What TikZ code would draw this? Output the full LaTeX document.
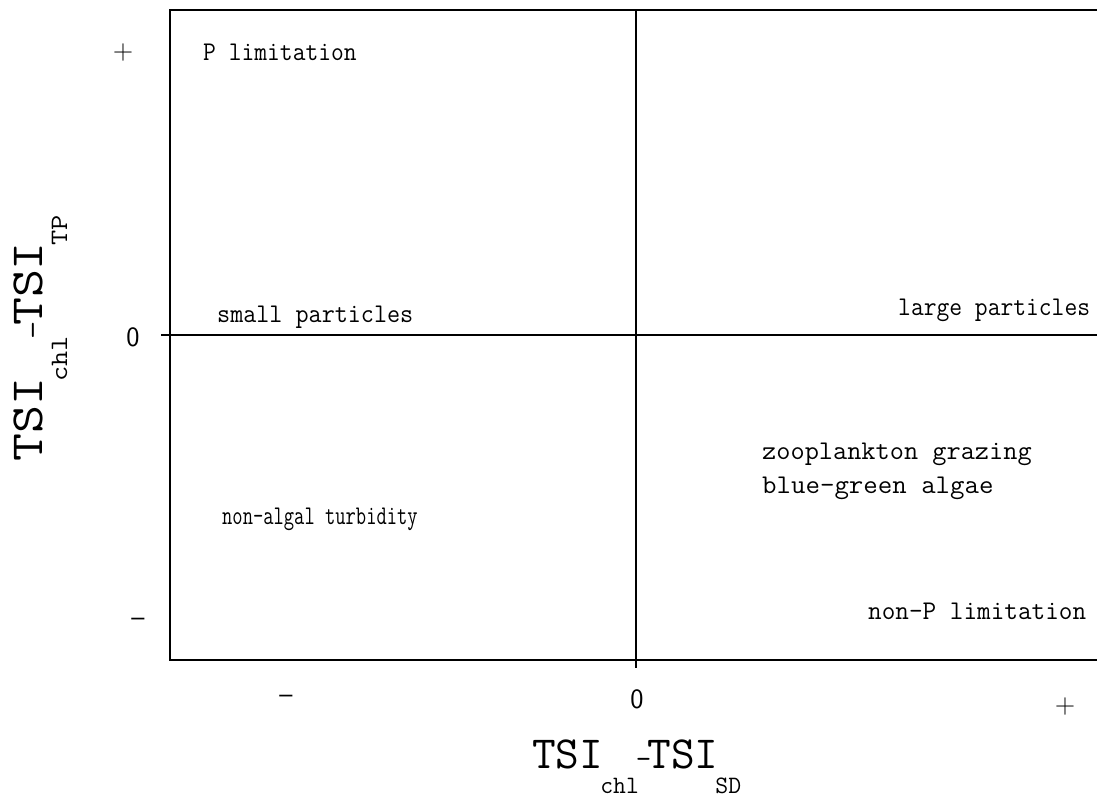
\documentclass[tikz,border=0pt]{standalone}
\usepackage{fontspec}
\usepackage{graphicx}
\newcommand\tsilabel[2]{\fontsize{46}{46}\selectfont\ttfamily TSI\kern-3pt\raisebox{-25pt}{\fontsize{25}{25}\selectfont #1}\kern-3pt\raisebox{0pt}{\fontsize{30}{30}\selectfont –}\kern-4pt TSI\kern-3pt\raisebox{-25pt}{\fontsize{25}{25}\selectfont #2}}
\begin{document}
\begin{tikzpicture}[x=1pt,y=-1pt,
  lab/.style={font=\fontsize{27}{27}\selectfont\ttfamily, inner sep=0pt, anchor=base west},
  tick/.style={font=\fontsize{28}{28}\selectfont\sffamily, inner sep=0pt},
  axlab/.style={inner sep=0pt, anchor=base west},
  frame/.style={line width=1.8pt},
  quad/.style={line width=1.1pt}]
\useasboundingbox (0,0) rectangle (1097,801);
% frame
\coordinate (tr) at (1097,10);
\coordinate (tl) at (170,10);
\coordinate (bl) at (170,660);
\coordinate (br) at (1097,660);
\draw[frame] (tr) -- (tl) -- (bl) -- (br);
% quadrant lines
\coordinate (vt) at (636,10);
\coordinate (vb) at (636,668);
\coordinate (hl) at (161,335);
\coordinate (hr) at (1097,335);
\draw[quad] (vt) -- (vb);
\draw[quad] (hl) -- (hr);
% tick labels
\node[tick] (yp) at (123,53) {+};
\node[tick] (y0) at (133,337) {0};
\node[tick] (ym) at (138,622) {–};
\node[tick] (xm) at (286,699) {–};
\node[tick] (x0) at (637,699) {0};
\node[tick] (xp) at (1065,707) {+};
% quadrant texts
\node[lab] (plim) at (203,60) {\scalebox{0.92}[1]{P limitation}};
\node[lab] (small) at (217,322) {\scalebox{0.94}[1]{small particles}};
\node[lab] (large) at (898,315) {\scalebox{0.92}[1]{large particles}};
\node[lab] (zoo) at (762,459) {\scalebox{1.02}[1]{zooplankton grazing}};
\node[lab] (blue) at (762,493) {\scalebox{1.04}[1]{blue-green algae}};
\node[lab] (nonalg) at (222,524) {\scalebox{0.74}[1]{non-algal turbidity}};
\node[lab] (nonp) at (868,619) {\scalebox{0.98}[1]{non-P limitation}};
% axis labels
\node[axlab] (xlab) at (532,768) {\tsilabel{chl}{SD}};
\node[axlab, rotate=90] (ylab) at (42,462) {\scalebox{1.18}[1]{\tsilabel{chl}{TP}}};
\end{tikzpicture}
\end{document}
